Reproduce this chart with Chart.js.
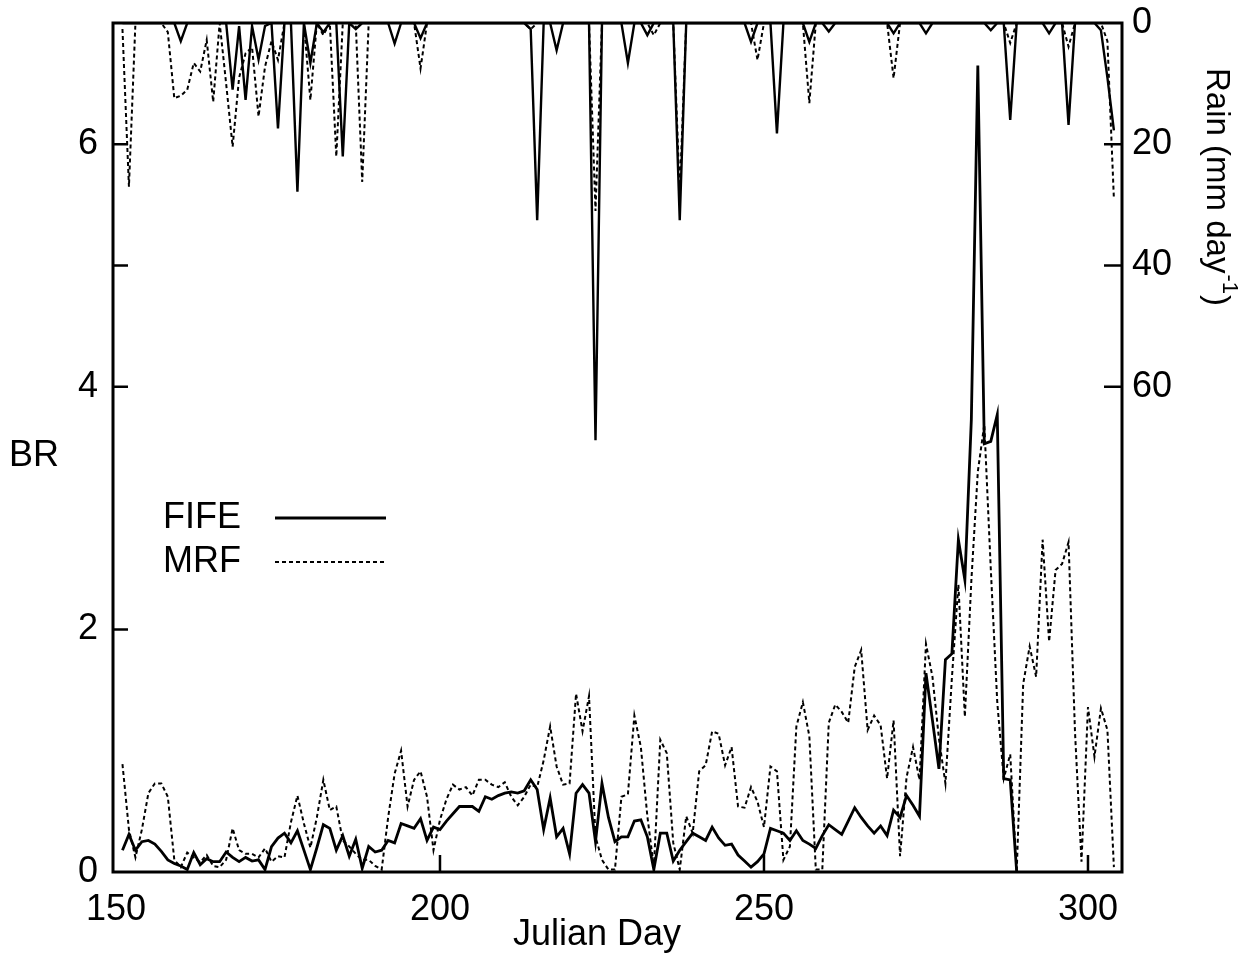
<!DOCTYPE html>
<html>
<head>
<meta charset="utf-8">
<script src="https://cdn.jsdelivr.net/npm/chart.js@4"></script>
<style>
  html, body { margin: 0; padding: 0; background: #fff; }
  #wrap { width: 1250px; height: 960px; }
</style>
</head>
<body>
<div id="wrap"><canvas id="brChart" width="1250" height="960"></canvas></div>
<script>
// Julian day of the first value in each series (one value per day)
const fifeBrStart = 151;
const mrfBrStart = 151;
const rainStart = 151;

// Bowen ratio, FIFE observations (days 151-289)
const fifeBr = [
  0.18, 0.31, 0.18, 0.25, 0.26, 0.23, 0.17, 0.10, 0.07, 0.05,
  0.02, 0.16, 0.06, 0.11, 0.085, 0.085, 0.165, 0.12, 0.085, 0.12,
  0.09, 0.10, 0.02, 0.21, 0.28, 0.32, 0.24, 0.34, 0.18, 0.02,
  0.20, 0.39, 0.36, 0.18, 0.30, 0.13, 0.27, 0.03, 0.21, 0.165,
  0.18, 0.26, 0.24, 0.40, 0.38, 0.36, 0.44, 0.26, 0.37, 0.35,
  0.42, 0.48, 0.54, 0.54, 0.54, 0.50, 0.62, 0.60, 0.63, 0.65,
  0.66, 0.65, 0.67, 0.76, 0.68, 0.35, 0.61, 0.29, 0.36, 0.15,
  0.65, 0.72, 0.65, 0.25, 0.73, 0.45, 0.25, 0.29, 0.29, 0.42,
  0.43, 0.29, 0.02, 0.32, 0.32, 0.09, 0.18, 0.25, 0.32, 0.29,
  0.26, 0.37, 0.28, 0.22, 0.23, 0.14, 0.09, 0.04, 0.085, 0.15,
  0.36, 0.34, 0.32, 0.26, 0.34, 0.26, 0.23, 0.195, 0.30, 0.39,
  0.35, 0.31, 0.42, 0.53, 0.45, 0.38, 0.32, 0.38, 0.30, 0.51,
  0.45, 0.63, 0.55, 0.46, 1.64, 1.25, 0.85, 1.75, 1.80, 2.74,
  2.41, 3.73, 6.65, 3.53, 3.55, 3.77, 0.77, 0.76, 0.0
];

// Bowen ratio, MRF model (days 151-304)
const mrfBr = [
  0.89, 0.35, 0.12, 0.35, 0.65, 0.73, 0.73, 0.62, 0.10, 0.04,
  0.16, 0.12, 0.08, 0.14, 0.05, 0.04, 0.10, 0.36, 0.18, 0.15,
  0.15, 0.12, 0.195, 0.085, 0.13, 0.12, 0.41, 0.63, 0.40, 0.20,
  0.45, 0.76, 0.51, 0.54, 0.26, 0.21, 0.15, 0.10, 0.10, 0.05,
  0.02, 0.45, 0.81, 1.00, 0.54, 0.76, 0.83, 0.62, 0.18, 0.43,
  0.60, 0.72, 0.68, 0.70, 0.63, 0.76, 0.76, 0.72, 0.70, 0.74,
  0.62, 0.55, 0.62, 0.72, 0.70, 0.92, 1.20, 0.87, 0.72, 0.73,
  1.47, 1.16, 1.45, 0.29, 0.10, 0.02, 0.02, 0.62, 0.64, 1.29,
  1.03, 0.46, 0.04, 1.09, 0.98, 0.24, 0.02, 0.46, 0.32, 0.83,
  0.88, 1.16, 1.14, 0.88, 1.03, 0.54, 0.53, 0.70, 0.58, 0.37,
  0.87, 0.83, 0.10, 0.21, 1.20, 1.40, 1.12, 0.02, 0.02, 1.23,
  1.38, 1.32, 1.23, 1.69, 1.83, 1.17, 1.29, 1.21, 0.77, 1.25,
  0.13, 0.78, 1.03, 0.76, 1.88, 1.61, 1.10, 0.73, 1.60, 2.37,
  1.28, 2.40, 3.30, 3.69, 2.50, 1.40, 0.77, 0.97, 0.00, 1.55,
  1.86, 1.61, 2.74, 1.90, 2.49, 2.54, 2.72, 1.15, 0.085, 1.36,
  0.95, 1.35, 1.17, 0.04
];

// Daily rain (mm/day), FIFE (days 151-304)
const fifeRain = [
  0, 0, 0, 0, 0, 0, 0, 0, 0, 3,
  0, 0, 0, 0, 0, 0, 0, 11, 0.5, 12.7,
  0.5, 6, 0.5, 0, 17.4, 0, 0, 27.8, 0, 6.6,
  0, 1.5, 0, 0, 22, 0, 1, 0, 0, 0,
  0, 0, 3.4, 0, 0, 0, 2.5, 0, 0, 0,
  0, 0, 0, 0, 0, 0, 0, 0, 0, 0,
  0, 0, 0, 1, 32.5, 0, 0, 4.5, 0, 0,
  0, 0, 0, 68.8, 0, 0, 0, 0, 6.6, 0,
  0, 2, 0, 0, 0, 0, 32.5, 0, 0, 0,
  0, 0, 0, 0, 0, 0, 0, 3.1, 0, 0,
  0, 18.2, 0, 0, 0, 0, 3.1, 0, 0, 1.4,
  0, 0, 0, 0, 0, 0, 0, 0, 0, 1.7,
  0, 0, 0, 0, 1.7, 0, 0, 0, 0, 0,
  0, 0, 0, 0, 1.2, 0, 0, 16, 0, 0,
  0, 0, 0, 1.7, 0, 0, 16.8, 0, 0, 0,
  0, 1.2, 9, 17.7
];

// Daily rain (mm/day), MRF (days 151-304)
const mrfRain = [
  1, 27, 0, 0, 0, 0, 0, 1.5, 12.4, 12,
  11, 6.6, 8, 2.8, 13, 0, 10, 20.4, 9, 5,
  4, 15.4, 7.2, 3, 6.1, 0, 0, 0, 0, 12.7,
  0, 2, 0, 22, 0, 0, 0, 26.2, 0, 0,
  0, 0, 0, 0, 0, 0, 7.5, 0, 0, 0,
  0, 0, 0, 0, 0, 0, 0, 0, 0, 0,
  0, 0, 0, 1, 0, 0, 0, 0, 0, 0,
  0, 0, 0, 31, 0, 0, 0, 0, 0, 0,
  0, 0, 2, 0, 0, 0, 28, 0, 0, 0,
  0, 0, 0, 0, 0, 0, 0, 0, 6.1, 0,
  0, 0, 0, 0, 0, 0, 13.2, 0, 0, 0,
  0, 0, 0, 0, 0, 0, 0, 0, 0, 9.1,
  0, 0, 0, 0, 0, 0, 0, 0, 0, 0,
  0, 0, 0, 0, 0, 0, 0, 3.3, 0, 0,
  0, 0, 0, 0, 0, 0, 3.9, 0, 0, 0,
  0, 0, 3, 29
];

// Tick labels and tick marks
const dayTicks = [150, 200, 250, 300];
const brTicks = [0, 2, 4, 6];
const rainTicks = [0, 20, 40, 60];
const dayTickMarks = [200, 250, 300];
const brTickMarks = [2, 4, 5, 6];
const rainTickMarks = [20, 40, 60];

const FONT = '"Liberation Sans", Arial, Helvetica, sans-serif';

// turn a daily list into {x, y} points
function toPoints(values, startDay) {
  return values.map((v, i) => ({ x: startDay + i, y: v }));
}

const solidStyle = { borderColor: '#000', borderWidth: 2.8, borderDash: [] };
const dashStyle = { borderColor: '#000', borderWidth: 2, borderDash: [4, 3] };

// frame, inward ticks, axis titles, legend
const decorations = {
  id: 'decorations',
  afterDatasetsDraw(chart) {
    const { ctx, chartArea: a, scales } = chart;
    ctx.save();
    ctx.strokeStyle = '#000';
    ctx.fillStyle = '#000';
    ctx.setLineDash([]);
    ctx.lineWidth = 3;
    ctx.strokeRect(a.left, a.top, a.right - a.left, a.bottom - a.top);

    ctx.lineWidth = 2.5;
    ctx.beginPath();
    brTickMarks.forEach(v => {
      const y = scales.y.getPixelForValue(v);
      ctx.moveTo(a.left, y); ctx.lineTo(a.left + 15, y);
    });
    dayTickMarks.forEach(v => {
      const x = scales.x.getPixelForValue(v);
      ctx.moveTo(x, a.bottom); ctx.lineTo(x, a.bottom - 17);
    });
    rainTickMarks.forEach(v => {
      const y = scales.rain.getPixelForValue(v);
      ctx.moveTo(a.right, y); ctx.lineTo(a.right - 18, y);
    });
    ctx.stroke();

    // axis titles
    ctx.font = '36px ' + FONT;
    ctx.textBaseline = 'middle';
    ctx.textAlign = 'left';
    ctx.fillText('BR', 9, 456);
    ctx.textAlign = 'center';
    ctx.textBaseline = 'alphabetic';
    ctx.fillText('Julian Day', 597, 945);

    // right title, rotated, with superscript
    ctx.save();
    ctx.translate(1216, 68);
    ctx.rotate(Math.PI / 2);
    ctx.textAlign = 'left';
    ctx.textBaseline = 'middle';
    ctx.font = '33px ' + FONT;
    const main = 'Rain (mm day';
    ctx.fillText(main, 0, 0);
    let w = ctx.measureText(main).width;
    ctx.font = '22px ' + FONT;
    ctx.fillText('-1', w + 1, -13);
    w += ctx.measureText('-1').width + 2;
    ctx.font = '33px ' + FONT;
    ctx.fillText(')', w, 0);
    ctx.restore();

    // legend
    const items = [
      { label: chart.data.datasets[0].label, ds: chart.data.datasets[0], y: 518 },
      { label: chart.data.datasets[1].label, ds: chart.data.datasets[1], y: 562 }
    ];
    ctx.font = '36px ' + FONT;
    ctx.textAlign = 'left';
    ctx.textBaseline = 'middle';
    items.forEach(it => {
      ctx.fillText(it.label, 163, it.y);
      ctx.lineWidth = it.ds.borderWidth;
      ctx.setLineDash(it.ds.borderDash);
      ctx.beginPath();
      ctx.moveTo(275, it.y);
      ctx.lineTo(386, it.y);
      ctx.stroke();
    });
    ctx.restore();
  }
};

const tickFont = { family: FONT, size: 36 };

// fixed axis box sizes so the plot frame lands where the original has it
function fixVertical(width) {
  return s => { s.width = width; s.paddingTop = 0; s.paddingBottom = 0; };
}

new Chart(document.getElementById('brChart'), {
  type: 'line',
  data: {
    datasets: [
      { label: 'FIFE', data: toPoints(fifeBr, fifeBrStart), yAxisID: 'y', ...solidStyle },
      { label: 'MRF', data: toPoints(mrfBr, mrfBrStart), yAxisID: 'y', ...dashStyle },
      { label: 'FIFE rain', data: toPoints(fifeRain, rainStart), yAxisID: 'rain', ...solidStyle, borderWidth: 2.4 },
      { label: 'MRF rain', data: toPoints(mrfRain, rainStart), yAxisID: 'rain', ...dashStyle }
    ]
  },
  options: {
    responsive: false,
    animation: false,
    devicePixelRatio: 1,
    layout: { padding: { top: 23, left: 0, right: 0, bottom: 0 } },
    elements: { point: { radius: 0 }, line: { tension: 0, borderCapStyle: 'butt', borderJoinStyle: 'miter' } },
    plugins: { legend: { display: false }, tooltip: { enabled: false } },
    scales: {
      x: {
        type: 'linear', min: 149.54, max: 305.25,
        afterBuildTicks: s => { s.ticks = dayTicks.map(v => ({ value: v })); },
        afterFit: s => { s.height = 88; s.paddingLeft = 0; s.paddingRight = 0; },
        grid: { display: false, drawTicks: false },
        border: { display: false },
        ticks: { font: tickFont, color: '#000', padding: 16, maxRotation: 0, autoSkip: false }
      },
      y: {
        position: 'left', min: 0, max: 7,
        afterBuildTicks: s => { s.ticks = brTicks.map(v => ({ value: v })); },
        afterFit: fixVertical(113),
        grid: { display: false, drawTicks: false },
        border: { display: false },
        ticks: { font: tickFont, color: '#000', padding: 15 }
      },
      rain: {
        position: 'right', min: 0, max: 140, reverse: true,
        afterBuildTicks: s => { s.ticks = rainTicks.map(v => ({ value: v })); },
        afterFit: fixVertical(128),
        grid: { display: false, drawTicks: false },
        border: { display: false },
        ticks: { font: tickFont, color: '#000', padding: 10 }
      }
    }
  },
  plugins: [decorations]
});
</script>
</body>
</html>
